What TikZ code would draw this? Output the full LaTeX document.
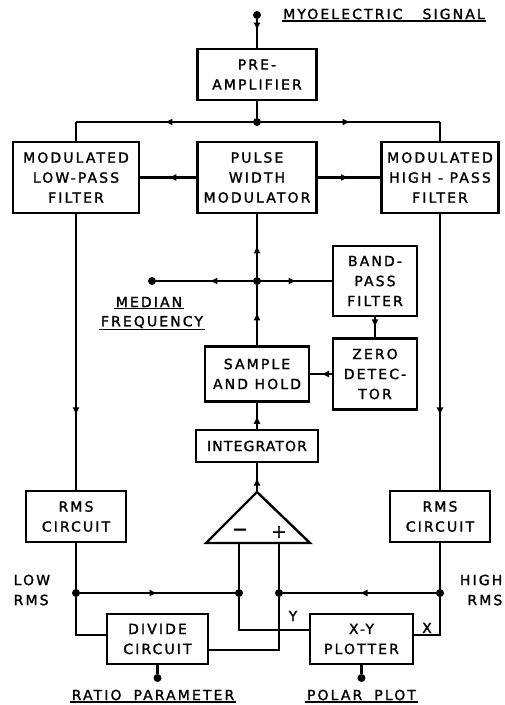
\documentclass[tikz,border=0pt]{standalone}
\usepackage{fontspec}
\setmainfont{DejaVu Sans}[LetterSpace=15,FakeBold=1.5]
\newfontfamily\intfont{DejaVu Sans}[LetterSpace=8,FakeBold=1.5]
\newfontfamily\signfont{DejaVu Sans}[FakeBold=2.5]
\usetikzlibrary{arrows.meta,decorations.markings}
\begin{document}
\begin{tikzpicture}[x=1pt,y=-1pt, font=\fontsize{14}{20}\selectfont,
 box/.style={draw, line width=2.2pt, align=center, inner sep=0pt},
 wire/.style={line width=2.4pt},
 thin/.style={line width=1.8pt},
 dot/.style={circle, fill, inner sep=0pt, minimum size=8pt},
 midarrow/.style={postaction={decorate}, decoration={markings, mark=at position #1 with {\arrow{Latex[length=8pt,width=7pt]}}}},
 midarrow/.default=0.5,
 lbl/.style={align=center, inner sep=1.5pt},
 ul/.style={line width=1.3pt},
]
\useasboundingbox (0,0) rectangle (504,705);

% boxes
\node[box, minimum width=119pt, minimum height=51pt] (pre) at (257,74.5) {PRE-\\AMPLIFIER};
\node[box, minimum width=126pt, minimum height=71pt] (lpf) at (76,177.5) {MODULATED\\LOW-PASS\\FILTER};
\node[box, minimum width=119pt, minimum height=71pt] (pwm) at (257,177.5) {PULSE\\WIDTH\\MODULATOR};
\node[box, minimum width=117pt, minimum height=71pt] (hpf) at (440,177.5) {MODULATED\\HIGH - PASS\\FILTER};
\node[box, minimum width=84pt, minimum height=70pt] (bpf) at (375,281) {BAND-\\PASS\\FILTER};
\node[box, minimum width=84pt, minimum height=71pt] (zd) at (375,374) {ZERO\\DETEC-\\TOR};
\node[box, minimum width=104pt, minimum height=55pt] (sh) at (257,374) {SAMPLE\\AND HOLD};
\node[box, minimum width=122pt, minimum height=32pt, font=\intfont\fontsize{14}{20}\selectfont] (int) at (257,446) {INTEGRATOR};
\node[box, minimum width=100pt, minimum height=51pt] (rmsL) at (76,516.5) {RMS\\CIRCUIT};
\node[box, minimum width=100pt, minimum height=51pt] (rmsR) at (440,516.5) {RMS\\CIRCUIT};
\node[box, minimum width=101pt, minimum height=50pt] (div) at (157.5,639) {DIVIDE\\CIRCUIT};
\node[box, minimum width=103pt, minimum height=50pt] (xy) at (361.5,639) {X-Y\\PLOTTER};

% amplifier triangle
\coordinate (ampA) at (257,492);
\coordinate (ampL) at (206,543);
\coordinate (ampR) at (310,543);
\draw[wire, line join=miter] (ampA) -- (ampL) -- (ampR) -- cycle;
\node[font=\signfont\fontsize{18}{18}\selectfont, inner sep=0pt] (minus) at (240,532) {−};
\node[font=\signfont\fontsize{18}{18}\selectfont, inner sep=0pt] (plus) at (279,532) {+};

% dots
\node[dot] (sig) at (257,15) {};
\node[dot] (j1) at (257,122) {};
\node[dot] (j2) at (257,281) {};
\node[dot] (mf) at (152,281) {};
\node[dot] (jL) at (76,593) {};
\node[dot] (jM) at (239,593) {};
\node[dot] (jP) at (279,593) {};
\node[dot] (jR) at (440,593) {};
\node[dot] (rp) at (157.5,678) {};
\node[dot] (pp) at (361.5,678) {};

% top
\draw[wire, midarrow=0.4] (sig) -- (pre);
\draw[wire] (pre) -- (j1);
\draw[wire, midarrow] (j1) -- (lpf.north |- j1);
\draw[wire] (lpf.north |- j1) -- (lpf.north);
\draw[wire, midarrow] (j1) -- (hpf.north |- j1);
\draw[wire] (hpf.north |- j1) -- (hpf.north);
\draw[wire, midarrow] (pwm) -- (lpf);
\draw[wire, midarrow] (pwm) -- (hpf);
\draw[wire, midarrow=0.73] (lpf) -- (rmsL);
\draw[wire, midarrow=0.73] (hpf) -- (rmsR);

% centre column
\draw[wire, midarrow] (j2) -- (pwm);
\draw[wire, midarrow=0.55] (sh) -- (j2);
\draw[wire, midarrow=0.45] (j2) -- (mf);
\draw[wire, midarrow] (j2) -- (bpf);
\draw[wire, midarrow] (bpf) -- (zd);
\draw[wire, midarrow] (zd) -- (sh);
\draw[wire, midarrow] (int) -- (sh);
\draw[wire, midarrow] (ampA) -- (int);

% bottom
\coordinate (divin) at ([yshift=4pt]div.west);
\coordinate (divout) at ([yshift=-11pt]div.east);
\coordinate (xyY) at ([yshift=9pt]xy.west);
\coordinate (xyX) at ([yshift=4pt]xy.east);
\draw[wire] (rmsL) -- (jL);
\draw[wire] (rmsR) -- (jR);
\draw[wire, midarrow] (jL) -- (jM);
\draw[wire, midarrow] (jR) -- (jP);
\draw[wire] (jM) -- (jM |- ampL);
\draw[wire] (jP) -- (jP |- ampL);
\draw[thin] (jL) -- (jL |- divin) -- (divin);
\draw[thin] (jM) -- (jM |- xyY) -- (xyY);
\draw[thin] (jP) -- (jP |- divout) -- (divout);
\draw[thin] (jR) -- (jR |- xyX) -- (xyX);
\draw[wire] (div) -- (rp);
\draw[wire] (xy) -- (pp);

% labels
\node[lbl] (sigl) at (384,14) {MYOELECTRIC\hspace{20pt}SIGNAL};
\draw[ul] (sigl.south west) -- (sigl.south east);
\node[lbl] (med) at (149,302) {MEDIAN};
\draw[ul] (med.south west) -- (med.south east);
\node[lbl] (freq) at (152,322) {FREQUENCY};
\draw[ul] (freq.south west) -- (freq.south east);
\node[lbl, align=left, anchor=west] (lowl) at (12,590) {LOW\\RMS};
\node[lbl, align=right, anchor=east] (highl) at (504,590) {HIGH\\RMS};
\node[lbl] (yl) at (293,616) {Y};
\node[lbl] (xl) at (427,628) {X};
\node[lbl] (ratio) at (153,695) {RATIO\hspace{12pt}PARAMETER};
\draw[ul] (ratio.south west) -- (ratio.south east);
\node[lbl] (polar) at (361.5,695) {POLAR\hspace{12pt}PLOT};
\draw[ul] (polar.south west) -- (polar.south east);
\end{tikzpicture}
\end{document}
